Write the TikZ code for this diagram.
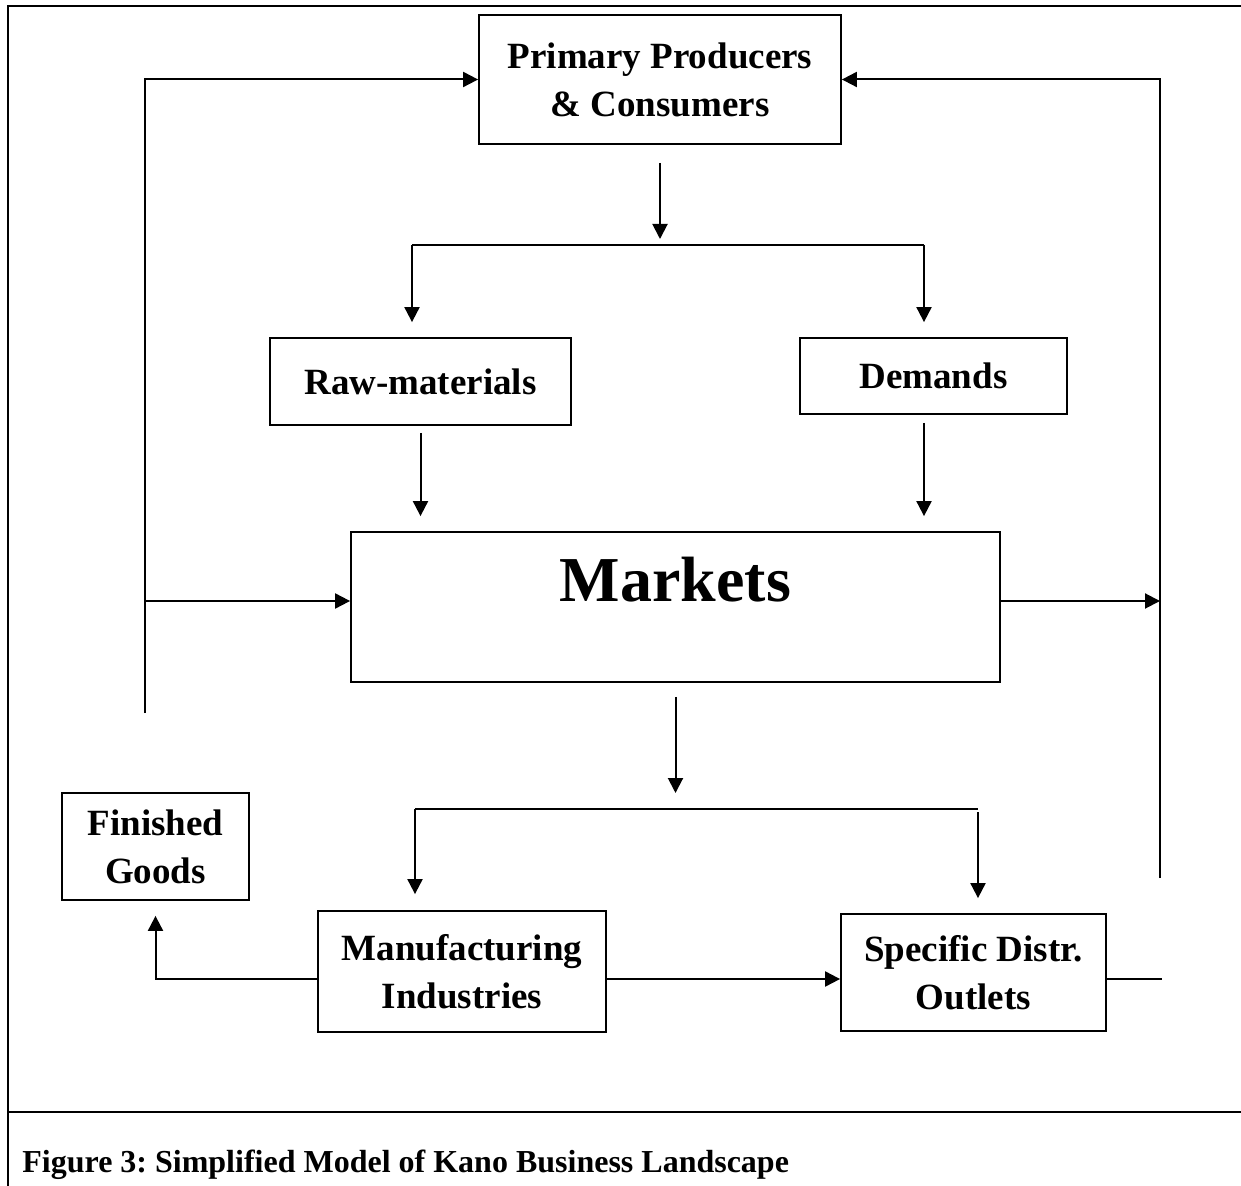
\documentclass[tikz,border=0pt]{standalone}
\usepackage{fontspec}
\setmainfont{Liberation Serif}
\usepackage{tikz}
\usetikzlibrary{arrows.meta, positioning, calc}
\frenchspacing

\begin{document}
\begin{tikzpicture}[
    x=0.5pt, y=-0.5pt,
    box/.style={rectangle, draw, line width=0.9pt, inner sep=0pt, align=center, font=\bfseries\fontsize{18.5}{24}\selectfont},
    line/.style={line width=1pt},
    arrow/.style={-{Triangle[length=7.5pt, width=7.5pt]}, line width=1pt},
    frame/.style={line width=1.4pt},
    caption/.style={font=\bfseries\fontsize{16}{19}\selectfont, inner sep=0pt}
]
\useasboundingbox (0,0) rectangle (1241,1186);

% Frame
\draw[frame] (1241,6) -- (8,6) -- (8,1186);
\draw[line] (8,1112) -- (1241,1112);

% Nodes
\node[box, minimum width=181pt, minimum height=64.5pt] (prim) at (660,79.5) {Primary Producers\\\& Consumers};
\node[box, minimum width=150.5pt, minimum height=43.5pt] (raw) at (420.5,381.5) {Raw-materials};
\node[box, minimum width=133.5pt, minimum height=38pt] (dem) at (933.5,376) {Demands};
\node[box, minimum width=324.5pt, minimum height=75pt, font=\bfseries\fontsize{32}{36}\selectfont, text height=22pt, text depth=27pt] (mkt) at (675.5,607) {Markets};
\node[box, minimum width=93.5pt, minimum height=53.5pt] (fin) at (155.5,846.5) {Finished\\Goods};
\node[box, minimum width=144pt, minimum height=60.5pt] (man) at (462,971.5) {Manufacturing\\Industries};
\node[box, minimum width=132.5pt, minimum height=58.5pt] (spec) at (973.5,972.5) {Specific Distr.\\Outlets};
\node[caption, anchor=base west] (cap) at (22,1172) {Figure 3: Simplified Model of Kano Business Landscape};

% Junctions
\coordinate (lb) at (145,713);
\coordinate (rb) at (1160,878);
\coordinate (lm) at (145,601);
\coordinate (rm) at (1160,601);
\coordinate (s1) at (412,245);
\coordinate (s2) at (924,245);
\coordinate (t1) at (415,809);
\coordinate (t2) at (978,809);
\coordinate (fg) at (153,979);
\coordinate (se) at (1162,979);

% Arrows
\draw[arrow] (lb) |- (prim.west);
\draw[arrow] (rb) |- (prim.east);
\draw[arrow] (lm) -- (lm -| mkt.west);
\draw[arrow] (rm -| mkt.east) -- (rm);
\draw[arrow, shorten <=9pt, shorten >=3pt] (prim.south) -- (prim.south |- s1);
\draw[line] (s1) -- (s2);
\draw[arrow, shorten >=7.5pt] (s1) -- (s1 |- raw.north);
\draw[arrow, shorten >=7.5pt] (s2) -- (s2 |- dem.north);
\draw[arrow, shorten <=3.5pt, shorten >=7.5pt] (raw.south) -- (raw.south |- mkt.north);
\draw[arrow, shorten <=4pt, shorten >=7.5pt] (s2 |- dem.south) -- (s2 |- mkt.north);
\draw[arrow, shorten <=7pt, shorten >=8pt] (mkt.south) -- (mkt.south |- t1);
\draw[line] (t1) -- (t2);
\draw[arrow, shorten >=8pt] (t1) -- (t1 |- man.north);
\draw[arrow, shorten <=1.5pt, shorten >=7.5pt] (t2) -- (t2 |- spec.north);
\draw[arrow, shorten >=7.5pt] (fg -| man.west) -| (fin.south);
\draw[arrow] (fg -| man.east) -- (fg -| spec.west);
\draw[line] (se -| spec.east) -- (se);

\end{tikzpicture}
\end{document}
